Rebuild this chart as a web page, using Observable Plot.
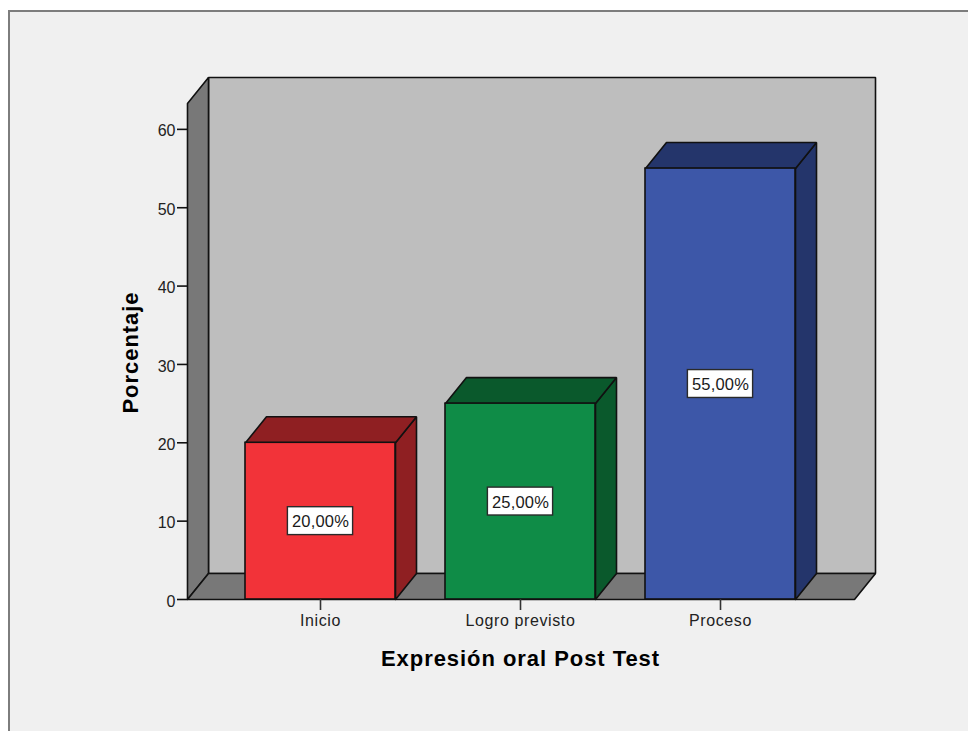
<!DOCTYPE html>
<html lang="es">
<head>
<meta charset="utf-8">
<title>Expresión oral Post Test</title>
<script src="https://cdn.jsdelivr.net/npm/d3@7"></script>
<script src="https://cdn.jsdelivr.net/npm/@observablehq/plot@0.6"></script>
<style>
  html, body { margin: 0; padding: 0; background: #fff; overflow: hidden; }
  #panel { position: absolute; left: 8px; top: 10px; right: 0; bottom: 0;
           border-left: 2px solid #7d7d7d; border-top: 2px solid #7d7d7d; background: #f0f0f0; }
  #chart { position: absolute; left: 0; top: 0; }
  #chart svg { display: block; }
  #chart .axis-title { letter-spacing: 0.95px; }
  #chart .cat-label { letter-spacing: 0.6px; }
  #chart .bar-label { letter-spacing: 0.2px; }
</style>
</head>
<body>
<div id="panel"></div>
<div id="chart"></div>
<script>
const categories = ["Inicio", "Logro previsto", "Proceso"];
const percentages = [20, 25, 55];
const labels = ["20,00%", "25,00%", "55,00%"];
const frontColors = ["#f23339", "#0f8c47", "#3d57a8"];
const sideColors = ["#8f1f22", "#0a592c", "#24356b"];
const yTicks = [0, 10, 20, 30, 40, 50, 60];
const xTitle = "Expresión oral Post Test";
const yTitle = "Porcentaje";

// Chart geometry, in data units of the two scales
const xMin = -0.665, xFrontMax = 2.67, yFrontMax = 63.3;
const depthX = 0.105, depthY = 3.32;
const barHalf = 0.375, boxHalfX = 0.163, boxHalfY = 1.78;

const font = "Liberation Sans, Arial, sans-serif";
const ink = "#111";
const idx = categories.map((_, i) => i);

function face(points, fill) {
  return Plot.line([...points, points[0]], {
    x: d => d[0], y: d => d[1], fill, stroke: ink, strokeWidth: 1.6, curve: "linear", strokeLinejoin: "miter"
  });
}

const backX = xFrontMax + depthX, backY = yFrontMax + depthY;
const marks = [
  face([[xMin + depthX, depthY], [backX, depthY], [backX, backY], [xMin + depthX, backY]], "#bebebe"),
  face([[xMin, 0], [xMin + depthX, depthY], [xMin + depthX, backY], [xMin, yFrontMax]], "#787878"),
  face([[xMin, 0], [xFrontMax, 0], [backX, depthY], [xMin + depthX, depthY]], "#787878")
];

idx.forEach(i => {
  const l = i - barHalf, r = i + barHalf, v = percentages[i];
  marks.push(face([[r, 0], [r + depthX, depthY], [r + depthX, v + depthY], [r, v]], sideColors[i]));
  marks.push(face([[l, v], [r, v], [r + depthX, v + depthY], [l + depthX, v + depthY]], sideColors[i]));
});

marks.push(
  Plot.rect(idx, {
    x1: i => i - barHalf, x2: i => i + barHalf,
    y1: 0, y2: i => percentages[i],
    fill: i => frontColors[i], stroke: ink, strokeWidth: 1.6
  }),
  Plot.rect(idx, {
    x1: i => i - boxHalfX, x2: i => i + boxHalfX,
    y1: i => percentages[i] / 2 - boxHalfY, y2: i => percentages[i] / 2 + boxHalfY,
    fill: "#fff", stroke: "#2a2a2a", strokeWidth: 1.4
  }),
  Plot.text(idx, {
    x: i => i, y: i => percentages[i] / 2, text: i => labels[i], dy: 1, className: "bar-label",
    fontFamily: font, fontSize: 16.5, fill: "#1a1a1a", textAnchor: "middle"
  }),
  Plot.axisY({
    ticks: yTicks, tickSize: 10, label: null, fill: "none",
    stroke: ink, strokeWidth: 1.6
  }),
  Plot.axisY({
    ticks: yTicks, tickSize: 0, tickPadding: 12, dy: 2, tickFormat: d => String(d), label: null,
    fontFamily: font, fontSize: 16, color: "#222"
  }),
  Plot.axisX({
    ticks: idx, tickSize: 11, label: null, fill: "none",
    stroke: "#333", strokeWidth: 1.6
  }),
  Plot.axisX({
    ticks: idx, tickSize: 0, tickPadding: 15, tickFormat: i => categories[i], label: null, className: "cat-label",
    fontFamily: font, fontSize: 16, color: "#222"
  }),
  Plot.text([xTitle], {
    x: () => 1, frameAnchor: "bottom", dy: 66, text: d => d, className: "axis-title",
    fontFamily: font, fontSize: 22, fontWeight: "bold", fill: "#000", textAnchor: "middle"
  }),
  Plot.text([yTitle], {
    frameAnchor: "left", dx: -57, dy: 14, rotate: -90, text: d => d, className: "axis-title",
    fontFamily: font, fontSize: 22, fontWeight: "bold", fill: "#000", textAnchor: "middle"
  })
);

const chart = Plot.plot({
  width: 968, height: 731,
  marginLeft: 187, marginRight: 93, marginTop: 77, marginBottom: 132,
  x: { domain: [xMin, backX], range: [187, 875] },
  y: { domain: [0, backY], range: [599, 77] },
  style: { background: "transparent", overflow: "visible" },
  marks
});
document.getElementById("chart").append(chart);
</script>
</body>
</html>
